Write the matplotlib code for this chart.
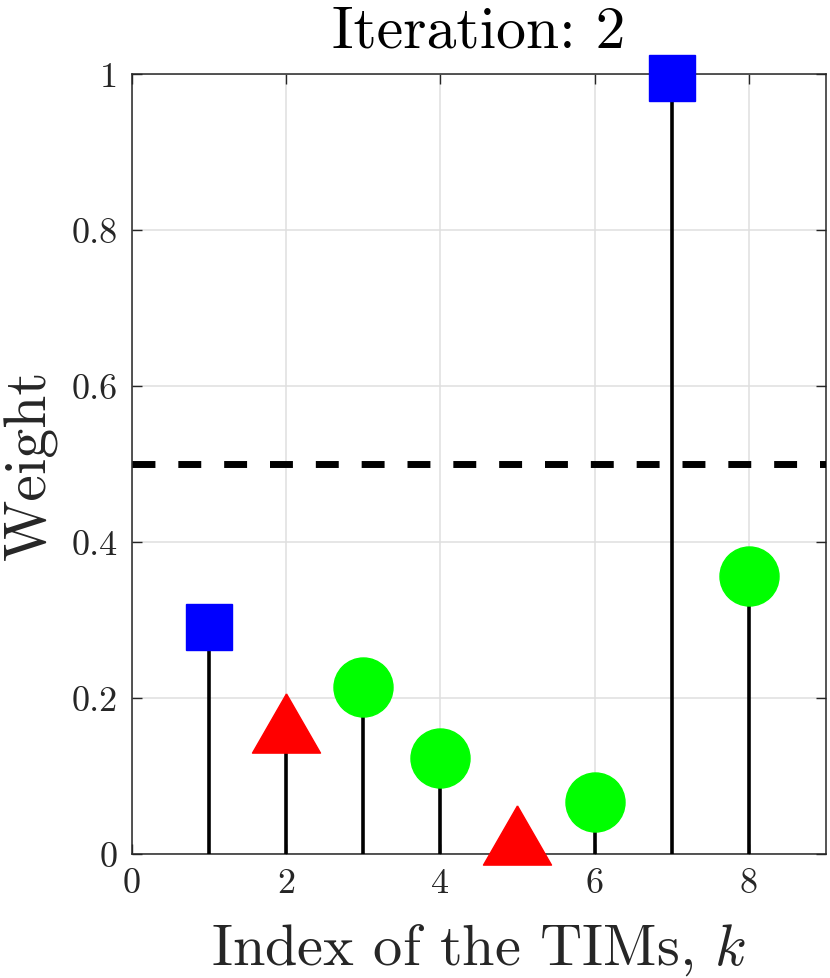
import numpy as np
import matplotlib
matplotlib.use("Agg")
import matplotlib.pyplot as plt

plt.rcParams['font.family'] = 'serif'
plt.rcParams['font.serif'] = ['cmr10']
plt.rcParams['mathtext.fontset'] = 'cm'
plt.rcParams['axes.unicode_minus'] = False
plt.rcParams['axes.formatter.use_mathtext'] = True

# data
k = [1, 2, 3, 4, 5, 6, 7, 8]
weights = [0.291, 0.168, 0.2135, 0.123, 0.024, 0.066, 0.995, 0.356]
kinds = ['sq', 'tri', 'circ', 'circ', 'tri', 'circ', 'sq', 'circ']
threshold = 0.5
xticks = [0, 2, 4, 6, 8]
yticks = [0, 0.2, 0.4, 0.6, 0.8, 1]
yticklabels = ['0', '0.2', '0.4', '0.6', '0.8', '1']

tri = [(0, 0.87), (-1, -0.87), (1, -0.87), (0, 0.87)]
style = {
    'sq': dict(marker='s', color='#0000ff', ms=33),
    'tri': dict(marker=tri, color='#ff0000', ms=49),
    'circ': dict(marker='o', color='#00ff00', ms=42.5),
}

fig = plt.figure(figsize=(8.3, 9.79), dpi=100)
ax = fig.add_axes([0.159, 0.1267, 0.836, 0.7967])

ax.vlines(k, 0, weights, color='black', lw=2.6, zorder=3)
for xi, yi, kd in zip(k, weights, kinds):
    s = style[kd]
    ax.plot([xi], [yi], linestyle='none', marker=s['marker'], ms=s['ms'],
            color=s['color'], mec=s['color'], zorder=4, clip_on=False)

ax.axhline(threshold, color='black', lw=5, dashes=(3.3, 3.3), zorder=3)

ax.set_xlim(0, 9)
ax.set_ylim(0, 1)
ax.set_xticks(xticks)
ax.set_xticklabels([str(t) for t in xticks])
ax.set_yticks(yticks)
ax.set_yticklabels(yticklabels)
ax.grid(True, color='#dfdfdf', lw=1.1, zorder=0)
ax.set_axisbelow(True)
ax.tick_params(direction='in', length=7, width=1, top=True, right=True,
               labelsize=26, colors='#262626', pad=10)
for sp in ax.spines.values():
    sp.set_color('#262626')
    sp.set_linewidth(1.1)

ax.set_xlabel('Index of the TIMs, $k$', fontsize=42, color='#262626', labelpad=16)
ax.set_ylabel('Weight', fontsize=43, color='#262626', labelpad=10)
ax.set_title('Iteration: 2', fontsize=43, color='black', pad=20)

fig.savefig('out.png', dpi=100)
